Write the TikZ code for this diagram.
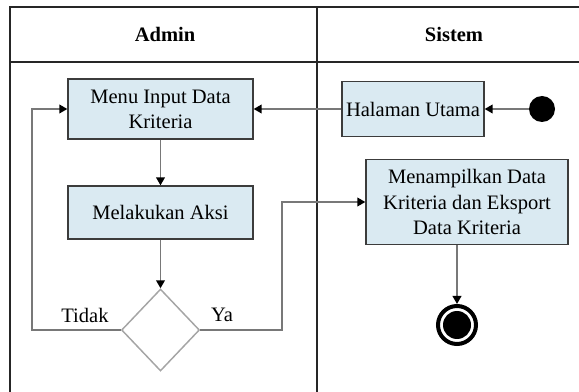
\documentclass[tikz,border=0pt]{standalone}
\usepackage{fontspec}
\setmainfont{Liberation Serif}
\usepackage{xcolor}
\usepackage{tikz}
\usetikzlibrary{arrows.meta,shapes.geometric}
\definecolor{actfill}{RGB}{218,234,242}
\definecolor{actline}{RGB}{60,60,60}
\definecolor{flow}{RGB}{120,120,120}
\definecolor{decline}{RGB}{165,165,165}

\begin{document}
\begin{tikzpicture}[x=0.75pt,y=-0.75pt,font=\fontsize{15.4}{18.8}\selectfont,
  act/.style={draw=actline,fill=actfill,line width=1pt,align=center,inner sep=2pt},
  dec/.style={diamond,draw=decline,fill=white,line width=1.1pt,inner sep=0pt,minimum width=58.5pt,minimum height=61.5pt},
  startdot/.style={circle,fill=black,inner sep=0pt,minimum size=19.5pt},
  enddot/.style={circle,draw=black,fill=white,line width=3pt,inner sep=0pt,minimum size=28.5pt,
    path picture={\fill[black] (path picture bounding box.center) circle (10.5pt);}},
  flowarr/.style={draw=flow,line width=1.3pt,-{Triangle[length=6pt,width=6.5pt,color=black]}},
  lane/.style={line width=1.1pt,draw=black!85}]
  \useasboundingbox (0,0) rectangle (579,392);
  % swimlanes
  \draw[lane] (10,392) -- (10,7) -- (579,7);
  \draw[lane] (10,62) -- (579,62);
  \draw[lane] (317,7) -- (317,392);
  \node[font=\fontsize{15.4}{18}\selectfont\bfseries] (admin) at (165,34) {Admin};
  \node[font=\fontsize{15.4}{18}\selectfont\bfseries] (sistem) at (454,34) {Sistem};
  % activities
  \node[startdot] (mulai) at (542,109) {};
  \node[act,minimum width=106.5pt,minimum height=41.25pt] (halaman) at (413,109) {Halaman Utama};
  \node[act,minimum width=138.75pt,minimum height=45pt] (menu) at (160.5,109) {Menu Input Data\\Kriteria};
  \node[act,minimum width=138.75pt,minimum height=39.75pt] (aksi) at (160.5,212.5) {Melakukan Aksi};
  \node[dec] (cek) at (160.5,330) {};
  \node[act,minimum width=151.5pt,minimum height=63.75pt] (tampil) at (467,202)
       {Menampilkan Data\\Kriteria dan Eksport\\Data Kriteria};
  \node[enddot] (akhir) at (457,325) {};
  % guards
  \node (tidak) at (85,315) {Tidak};
  \node (ya) at (222,315) {Ya};
  \coordinate (kiri) at (32,330);
  \coordinate (kanan) at (282,330);
  % flows
  \draw[flowarr] (mulai) -- (halaman);
  \draw[flowarr] (halaman) -- (menu);
  \draw[flowarr] (menu) -- (aksi);
  \draw[flowarr] (aksi) -- (cek);
  \draw[flowarr] (cek.west) -- (kiri) |- (menu.west);
  \draw[flowarr] (cek.east) -- (kanan) |- (tampil.west);
  \draw[flowarr] (tampil.south -| akhir.north) -- (akhir);
\end{tikzpicture}
\end{document}
